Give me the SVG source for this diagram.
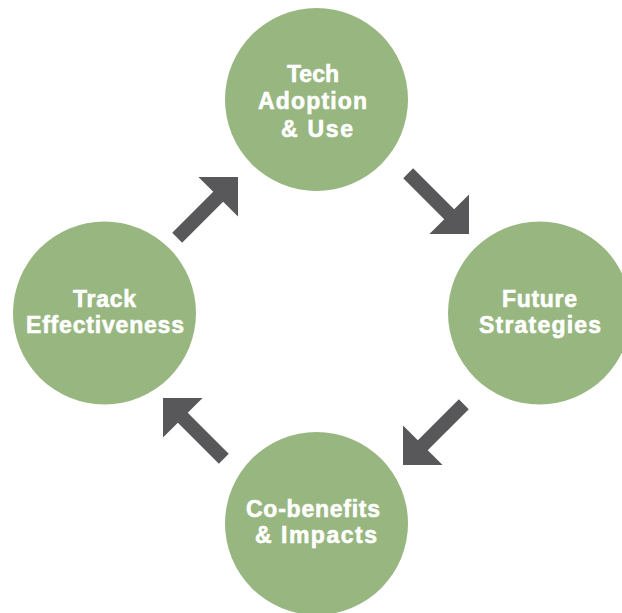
<svg xmlns="http://www.w3.org/2000/svg" width="622" height="613" viewBox="0 0 622 613">
<style>
.node circle{fill:#97b680}
.node text{fill:#ffffff;stroke:#ffffff;stroke-width:0.6;font-family:"Liberation Sans",Arial,Helvetica,sans-serif;font-weight:bold;font-size:23px;text-anchor:middle}
.arrow{fill:#58585a}
</style>
<defs>
<polygon id="arr" points="0,0 -28,-28 -28,-7 -86,-7 -86,7 -28,7 -28,28"/>
</defs>
<rect width="622" height="613" fill="#ffffff"/>
<g id="connectors">
<use href="#arr" class="arrow" transform="translate(238,177) rotate(-45)"/>
<use href="#arr" class="arrow" transform="translate(469,234) rotate(45)"/>
<use href="#arr" class="arrow" transform="translate(403,465) rotate(135)"/>
<use href="#arr" class="arrow" transform="translate(163,398) rotate(-135)"/>
</g>
<g id="tech-adoption" class="node">
<circle cx="316.5" cy="99.5" r="91.5"/>
<text x="313" y="82" textLength="52" lengthAdjust="spacing">Tech</text>
<text x="312.5" y="109" textLength="109" lengthAdjust="spacing">Adoption</text>
<text x="317" y="137" textLength="72" lengthAdjust="spacing">&amp; Use</text>
</g>
<g id="future-strategies" class="node">
<circle cx="539.5" cy="313" r="91.5"/>
<text x="539.5" y="307" textLength="75" lengthAdjust="spacing">Future</text>
<text x="540" y="333" textLength="122" lengthAdjust="spacing">Strategies</text>
</g>
<g id="co-benefits" class="node">
<circle cx="316.5" cy="523.5" r="91.5"/>
<text x="313" y="517" textLength="134" lengthAdjust="spacing">Co-benefits</text>
<text x="316" y="543" textLength="122" lengthAdjust="spacing">&amp; Impacts</text>
</g>
<g id="track-effectiveness" class="node">
<circle cx="104.5" cy="313" r="91.5"/>
<text x="104.5" y="307" textLength="63" lengthAdjust="spacing">Track</text>
<text x="105" y="333" textLength="158" lengthAdjust="spacing">Effectiveness</text>
</g>
</svg>
